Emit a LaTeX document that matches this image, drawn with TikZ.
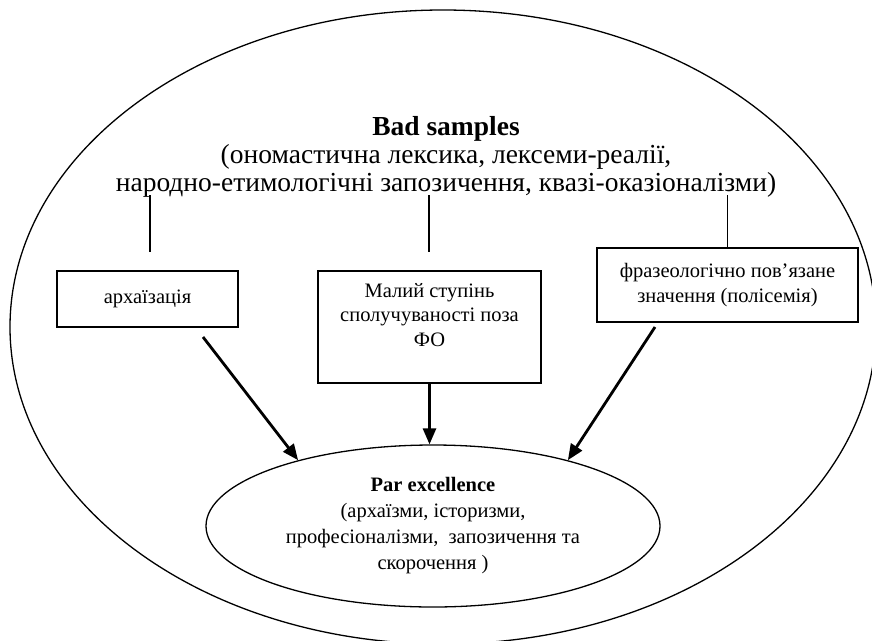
\documentclass[tikz,border=0pt]{standalone}
\usepackage{fontspec}
\setmainfont{Liberation Serif}
\usetikzlibrary{arrows.meta,shapes.geometric,positioning}

\tikzset{
  ring/.style={ellipse,draw,line width=1.3pt,inner sep=0pt},
  boxnode/.style={rectangle,draw,line width=1.4pt,align=center,inner sep=0pt,
    font=\fontsize{20.5}{24.5}\selectfont},
  tickline/.style={line width=1.3pt},
  flowarrow/.style={line width=2.8pt,-{Triangle[length=16pt,width=13pt]}},
}

\begin{document}
\begin{tikzpicture}[x=1pt,y=-1pt]
  \clip (0,0) rectangle (872,640);
  % outer field
  \node[ring,minimum width=866pt,minimum height=634pt] (outer) at (443,327) {};
  \node[align=center,font=\fontsize{27.5}{28}\selectfont] (badtxt) at (446,157)
    {\textbf{Bad samples}\\(ономастична лексика, лексеми-реалії,\\
     народно-етимологічні запозичення, квазі-оказіоналізми)};
  % features
  \node[boxnode,minimum width=181pt,minimum height=56pt] (arch) at (147.5,299) {архаїзація};
  \node[boxnode,minimum width=223pt,minimum height=112pt] (comb) at (429.5,327)
    {Малий ступінь\\сполучуваності поза\\ФО\\ \mbox{}};
  \node[boxnode,minimum width=261pt,minimum height=74pt] (phras) at (727.5,285)
    {фразеологічно пов’язане\\значення (полісемія)};
  % core
  \node[ring,minimum width=454pt,minimum height=162pt,align=center,
        font=\fontsize{20.5}{26}\selectfont] (core) at (433,526)
    {\textbf{Par excellence}\\(архаїзми, історизми,\\професіоналізми,\ \ запозичення та\\скорочення )};
  % ticks under the heading
  \coordinate (t1) at (150,195);
  \coordinate (b1) at (150,252);
  \coordinate (t2) at (429,195);
  \coordinate (b2) at (429,252);
  \coordinate (t3) at (727.5,195);
  \draw[tickline] (t1) -- (b1);
  \draw[tickline] (t2) -- (b2);
  \draw[tickline] (t3) -- (phras.north);
  % arrows to the core
  \coordinate (s1) at (203,337);
  \coordinate (s3) at (655,327);
  \draw[flowarrow] (s1) -- (core.154);
  \draw[flowarrow] (comb.south) -- (comb.south |- core.north);
  \draw[flowarrow] (s3) -- (core.26);
\end{tikzpicture}
\end{document}
